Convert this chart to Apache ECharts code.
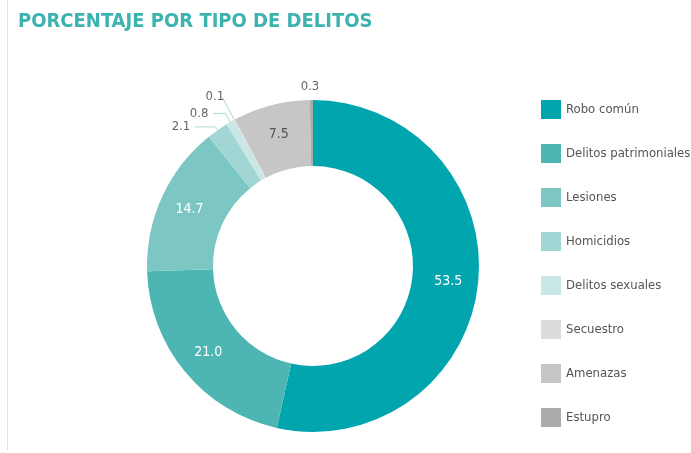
<!DOCTYPE html>
<html>
<head>
<meta charset="utf-8">
<script src="https://cdn.jsdelivr.net/npm/echarts@6/dist/echarts.min.js"></script>
<style>
  html, body { margin: 0; padding: 0; background: #fff; }
  #chart { width: 691px; height: 453px; }
</style>
</head>
<body>
<div id="chart"></div>
<script>
var categories = ['Robo común', 'Delitos patrimoniales', 'Lesiones', 'Homicidios', 'Delitos sexuales', 'Secuestro', 'Amenazas', 'Estupro'];
var values = [53.5, 21.0, 14.7, 2.1, 0.8, 0.1, 7.5, 0.3];
var colors = ['#00a5ad', '#4db6b2', '#7cc7c3', '#a1d6d4', '#c9e7e5', '#dcdcdc', '#c6c6c6', '#ababab'];
// etiquetas dentro o fuera del anillo
var inside = [true, true, true, false, false, false, true, false];
// lineas guia de las etiquetas pequeñas: [length, length2, distancia]
var guides = [null, null, null, [4, 20, 5], [10, 12, 5], [26, 0, -2], null, [13, 0, -8]];

var font = "'Liberation Sans Narrow', 'DejaVu Sans Condensed', sans-serif";

var chart = echarts.init(document.getElementById('chart'));

var pieData = categories.map(function(name, i) {
  var item = {
    name: name,
    value: values[i],
    itemStyle: { color: colors[i] }
  };
  if (inside[i]) {
    item.label = {
      position: 'inside',
      color: i == 6 ? '#555' : '#fff',
      fontSize: 14
    };
    item.labelLine = { show: false };
  } else {
    var g = guides[i];
    item.label = {
      position: 'outside',
      color: '#666',
      fontSize: 13,
      distanceToLabelLine: g[2]
    };
    item.labelLine = {
      show: i != 7, // 0.3 sin linea
      length: g[0],
      length2: g[1],
      lineStyle: { color: '#a5d8d6', width: 1 }
    };
  }
  return item;
});

var option = {
  animation: false,
  title: {
    text: 'PORCENTAJE POR TIPO DE DELITOS',
    left: 18,
    top: 12,
    padding: 0,
    textStyle: { color: '#3db3b0', fontSize: 20, fontWeight: 'bold', fontFamily: font }
  },
  legend: {
    orient: 'vertical',
    left: 541,
    top: 100,
    padding: 0,
    itemWidth: 20,
    itemHeight: 19,
    itemGap: 25,
    icon: 'rect',
    data: categories,
    textStyle: { color: '#555', fontSize: 13, fontFamily: font }
  },
  graphic: [{
    type: 'line',
    shape: { x1: 7.5, y1: 0, x2: 7.5, y2: 450 },
    style: { stroke: '#e2e2e2', lineWidth: 1 }
  }],
  series: [{
    type: 'pie',
    center: [313, 266],
    radius: [100, 166],
    startAngle: 90,
    clockwise: true,
    avoidLabelOverlap: false,
    labelLayout: { hideOverlap: false },
    label: {
      fontFamily: font,
      formatter: function(p) { return p.value.toFixed(1); }
    },
    itemStyle: { borderWidth: 0 },
    data: pieData
  }]
};

chart.setOption(option);
</script>
</body>
</html>
